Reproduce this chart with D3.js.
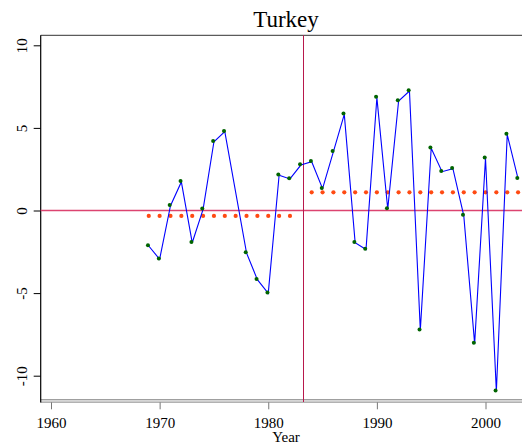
<!DOCTYPE html>
<html><head><meta charset="utf-8">
<script src="https://cdn.jsdelivr.net/npm/d3@7"></script>
<style>
html,body{margin:0;padding:0;background:#fff;}
svg{display:block;}
text{font-family:"Liberation Serif","Times New Roman",serif;fill:#000;}
</style></head>
<body>
<svg id="c" width="522" height="443"></svg>
<script>
const title = "Turkey";
const xLabel = "Year";
const years = [1969,1970,1971,1972,1973,1974,1975,1976,1978,1979,1980,1981,1982,1983,1984,1985,1986,1987,1988,1989,1990,1991,1992,1993,1994,1995,1996,1997,1998,1999,2000,2001,2002,2003];
const values = [-2.15,-2.95,0.29,1.73,-1.95,0.07,4.16,4.77,-2.57,-4.19,-5.01,2.13,1.91,2.75,2.95,1.32,3.56,5.82,-1.95,-2.36,6.83,0.09,6.63,7.23,-7.25,3.77,2.35,2.53,-0.31,-8.06,3.16,-10.94,4.59,1.92];
const preYears = [1969,1970,1971,1972,1973,1974,1975,1976,1977,1978,1979,1980,1981,1982];
const postYears = [1984,1985,1986,1987,1988,1989,1990,1991,1992,1993,1994,1995,1996,1997,1998,1999,2000,2001,2002,2003];
const preMean = -0.33;
const postMean = 1.10;
const breakYear = 1983.2;
const xTicks = [1960,1970,1980,1990,2000];
const yTicks = [-10,-5,0,5,10];

const svg = d3.select("#c");
const L = 40.7, R = 531, T = 35.3, B = 402;
const x = d3.scaleLinear().domain([1960,2000]).range([51,485.5]);
const y = d3.scaleLinear().domain([-10,10]).range([375.7,45.3]);

// title
svg.append("text").attr("x",286).attr("y",27).attr("text-anchor","middle")
  .style("font-size","23px").text(title);

// frame
svg.append("line").attr("x1",L).attr("x2",R).attr("y1",T).attr("y2",T)
  .attr("stroke","#333").attr("stroke-width",1);
svg.append("line").attr("x1",L).attr("x2",R).attr("y1",399.8).attr("y2",399.8)
  .attr("stroke","#777").attr("stroke-width",1);
svg.append("line").attr("x1",L).attr("x2",R).attr("y1",402.2).attr("y2",402.2)
  .attr("stroke","#999").attr("stroke-width",1.2);

// y axis
const yAxis = d3.axisLeft(y).tickValues(yTicks).tickSize(7).tickFormat(d=>d);
const gy = svg.append("g").attr("transform",`translate(${L},0)`).call(yAxis);
gy.select(".domain").remove();
gy.selectAll(".tick line").attr("stroke","#000");
gy.selectAll(".tick text").remove();
gy.selectAll(".tick").append("text")
  .attr("transform","translate(-14,0) rotate(-90)")
  .attr("text-anchor","middle").attr("dy","0")
  .style("font-size","15px").attr("fill","#000")
  .text(d=>d);
svg.append("line").attr("x1",L).attr("x2",L).attr("y1",T).attr("y2",B+0.5)
  .attr("stroke","#000").attr("stroke-width",1.2);

// x axis
const xAxis = d3.axisBottom(x).tickValues(xTicks).tickSize(7).tickFormat(d3.format("d"));
const gx = svg.append("g").attr("transform",`translate(0,${B+0.3})`).call(xAxis);
gx.select(".domain").remove();
gx.selectAll(".tick line").attr("stroke","#777");
gx.selectAll(".tick text").attr("y",26).attr("dy",0).style("font-size","15px")
  .attr("fill","#000").style("font-family","Liberation Serif, serif");
svg.append("text").attr("x",286).attr("y",441.5).attr("text-anchor","middle")
  .style("font-size","15px").text(xLabel);

// reference lines
svg.append("line").attr("x1",L).attr("x2",R).attr("y1",y(0)).attr("y2",y(0))
  .attr("stroke","#dc4470").attr("stroke-width",1.4);
const bx = Math.round(x(breakYear)) + 0.5;
svg.append("line").attr("x1",bx).attr("x2",bx).attr("y1",T).attr("y2",B)
  .attr("stroke","#b8184c").attr("stroke-width",1);

// mean markers
svg.append("g").selectAll("circle").data(preYears).join("circle")
  .attr("cx",d=>x(d)).attr("cy",y(preMean)).attr("r",2.1).attr("fill","#ff4a12");
svg.append("g").selectAll("circle").data(postYears).join("circle")
  .attr("cx",d=>x(d)).attr("cy",y(postMean)).attr("r",2.1).attr("fill","#ff4a12");

// series line
const pts = years.map((yr,i)=>[yr,values[i]]);
svg.append("path").datum(pts)
  .attr("d",d3.line().x(d=>x(d[0])).y(d=>y(d[1])))
  .attr("fill","none").attr("stroke","#0000ff").attr("stroke-width",1.1);
svg.append("g").selectAll("circle").data(pts).join("circle")
  .attr("cx",d=>x(d[0])-0.8).attr("cy",d=>y(d[1])-0.8).attr("r",2).attr("fill","#006400");
</script>
</body></html>
